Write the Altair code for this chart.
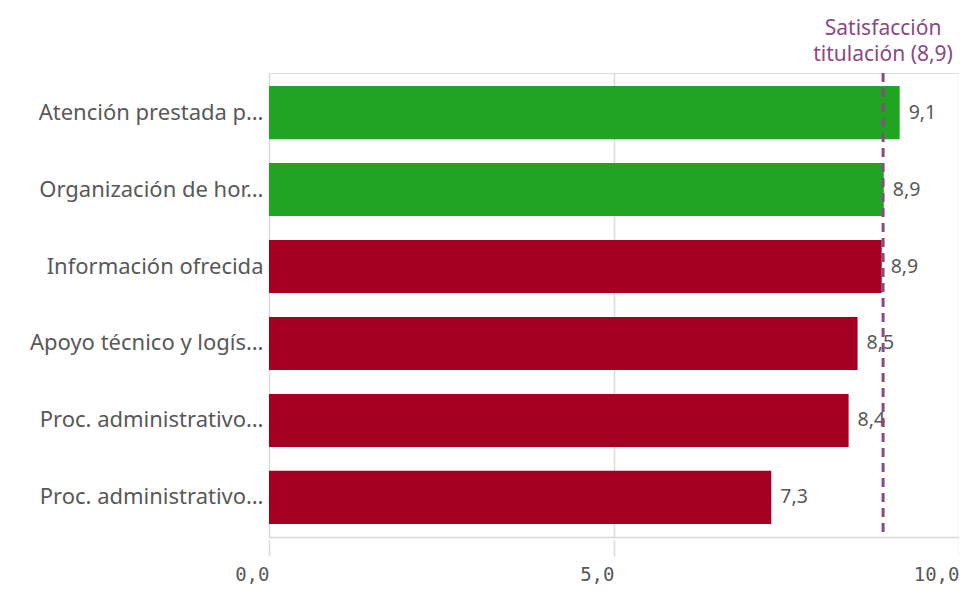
import json
import altair as alt
import pandas as pd

categories = [
    "Atención prestada p…",
    "Organización de hor…",
    "Información ofrecida",
    "Apoyo técnico y logís…",
    "Proc. administrativo…",
    "Proc. administrativo…",
]
values = [9.14, 8.91, 8.88, 8.53, 8.40, 7.28]
status = ["above", "above", "below", "below", "below", "below"]
reference_value = 8.9
reference_label = "Satisfacción\ntitulación (8,9)"
x_ticks = [0, 5, 10]

df = pd.DataFrame({
    "idx": list(range(len(categories))),
    "cat": categories,
    "value": values,
    "status": status,
})
ref_df = pd.DataFrame({"ref": [reference_value], "label": [reference_label]})

label_expr = json.dumps(categories, ensure_ascii=False) + "[datum.value]"

W, H = 690, 464
GRID = "#d9d9d9"
TXT = "#595959"
PURPLE = "#8a4a82"

y_enc = alt.Y(
    "idx:O",
    sort="ascending",
    scale=alt.Scale(paddingInner=0.31, paddingOuter=0.17),
    axis=alt.Axis(
        title=None, labelExpr=label_expr, ticks=False, domain=False,
        labelFont="Noto Sans", labelFontSize=22, labelColor=TXT,
        labelPadding=6, labelLimit=400,
    ),
)

x_scale = alt.Scale(domain=[0, 10], nice=False)

bars = alt.Chart(df).mark_bar().encode(
    x=alt.X(
        "value:Q", scale=x_scale,
        axis=alt.Axis(
            title=None, orient="bottom", values=x_ticks, grid=True, gridColor=GRID,
            gridWidth=1.5, domain=True, domainColor=GRID, domainWidth=1.5,
            ticks=False, labels=False,
        ),
    ),
    y=y_enc,
    color=alt.Color(
        "status:N",
        scale=alt.Scale(domain=["above", "below"], range=["#20a523", "#a50021"]),
        legend=None,
    ),
)

texts = alt.Chart(df).mark_text(
    align="left", baseline="middle", dx=9, font="Noto Sans", fontSize=19.5, color=TXT
).transform_calculate(
    lbl="replace(format(datum.value, '.1f'), '.', ',')"
).encode(
    x=alt.X("value:Q", scale=x_scale, axis=None),
    y=y_enc,
    text="lbl:N",
)

rule = alt.Chart(ref_df).mark_rule(
    color=PURPLE, strokeWidth=3, strokeDash=[9, 6]
).encode(
    x=alt.X(
        "ref:Q", scale=x_scale,
        axis=alt.Axis(
            title=None, orient="bottom", values=x_ticks, grid=False, domain=False,
            ticks=True, tickSize=16, tickColor=GRID, tickWidth=1.5, offset=3,
            labelExpr="replace(format(datum.value, '.1f'), '.', ',')",
            labelFont="DejaVu Sans Mono", labelFontSize=19, labelColor=TXT,
            labelAlign="right", labelFlush=False, labelBaseline="top",
            labelPadding=9,
        ),
    ),
)

ann = alt.Chart(ref_df).mark_text(
    align="center", baseline="alphabetic", lineBreak="\n", lineHeight=26,
    font="Noto Sans", fontSize=21, color=PURPLE,
).encode(
    x=alt.X("ref:Q", scale=x_scale, axis=None),
    y=alt.value(-38),
    text="label:N",
)

chart = alt.layer(bars, texts, rule, ann).resolve_axis(x="independent").properties(
    width=W, height=H,
    autosize=alt.AutoSizeParams(type="none"),
    padding={"left": 261, "top": 65, "right": 0, "bottom": 52},
).configure_view(stroke=None).configure(background="white")

chart.save("out.html", embed_options={"renderer": "svg", "actions": False})
